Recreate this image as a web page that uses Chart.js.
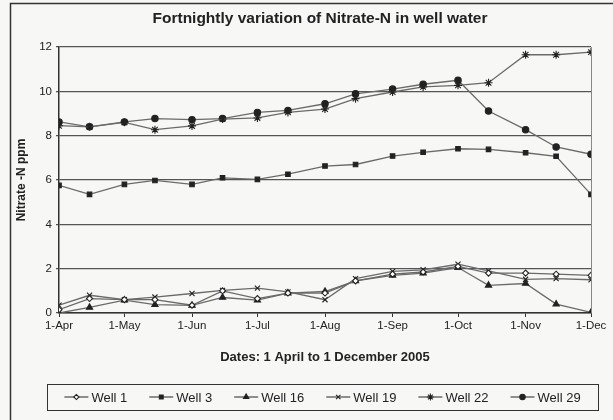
<!DOCTYPE html>
<html>
<head>
<meta charset="utf-8">
<script src="https://cdn.jsdelivr.net/npm/chart.js@4/dist/chart.umd.min.js"></script>
<style>
  html, body { margin: 0; padding: 0; background: #f7f7f5; }
  #wrap { width: 613px; height: 420px; }
</style>
</head>
<body>
<div id="wrap"><canvas id="nitrateChart" width="613" height="420"></canvas></div>
<script>
// sampling dates (fortnightly) and month ticks
const sampleDates = ['2005-04-01','2005-04-15','2005-05-01','2005-05-15','2005-06-01','2005-06-15',
  '2005-07-01','2005-07-15','2005-08-01','2005-08-15','2005-09-01','2005-09-15','2005-10-01',
  '2005-10-15','2005-11-01','2005-11-15','2005-12-01']
const monthStarts = ['2005-04-01','2005-05-01','2005-06-01','2005-07-01','2005-08-01',
  '2005-09-01','2005-10-01','2005-11-01','2005-12-01']
const tickLabels = ['1-Apr','1-May','1-Jun','1-Jul','1-Aug','1-Sep','1-Oct','1-Nov','1-Dec']
const yTicks = [0, 2, 4, 6, 8, 10, 12]

// Nitrate-N ppm per well
const well1  = [0.15, 0.65, 0.6, 0.6, 0.35, 1.0, 0.65, 0.9, 0.9, 1.45, 1.75, 1.85, 2.1, 1.8, 1.8, 1.75, 1.7]
const well3  = [5.76, 5.35, 5.8, 5.98, 5.8, 6.1, 6.03, 6.26, 6.63, 6.7, 7.08, 7.25, 7.41, 7.38, 7.23, 7.07, 5.35]
const well16 = [0.0, 0.25, 0.58, 0.38, 0.34, 0.7, 0.58, 0.9, 0.97, 1.45, 1.7, 1.8, 2.05, 1.25, 1.33, 0.4, 0.03]
const well19 = [0.35, 0.8, 0.6, 0.72, 0.88, 1.02, 1.12, 0.95, 0.6, 1.55, 1.88, 1.95, 2.2, 1.9, 1.52, 1.55, 1.5]
const well22 = [8.45, 8.4, 8.6, 8.27, 8.44, 8.75, 8.8, 9.05, 9.2, 9.67, 9.97, 10.2, 10.27, 10.39, 11.65, 11.65, 11.77]
const well29 = [8.62, 8.4, 8.62, 8.77, 8.72, 8.77, 9.05, 9.14, 9.44, 9.89, 10.1, 10.32, 10.5, 9.11, 8.27, 7.49, 7.16]

const seriesNames = ['Well 1', 'Well 3', 'Well 16', 'Well 19', 'Well 22', 'Well 29']
const seriesValues = [well1, well3, well16, well19, well22, well29]
const pointStyles = ['rectRot', 'rect', 'triangle', 'crossRot', 'star', 'circle']
const pointFills = ['#ffffff', '#222', '#222', '#222', '#222', '#222']
const pointSizes = [3, 3.2, 3.6, 3.6, 4, 3.2]

const dayMs = 86400000
const t0 = Date.parse(sampleDates[0])
const toDay = d => (Date.parse(d) - t0) / dayMs
const tickDays = monthStarts.map(toDay)

const datasets = seriesNames.map((name, i) => ({
  label: name,
  data: seriesValues[i].map((v, j) => ({x: toDay(sampleDates[j]), y: v})),
  borderColor: '#6a6a6a',
  borderWidth: 1.3,
  pointStyle: pointStyles[i],
  pointRadius: pointSizes[i],
  pointBackgroundColor: pointFills[i],
  pointBorderColor: '#222',
  pointBorderWidth: 1.1,
  tension: 0,
  fill: false
}))

const font = "'Liberation Sans', Arial, sans-serif"

const frame = {
  id: 'frame',
  beforeDraw(chart) {
    const ctx = chart.ctx
    ctx.save()
    ctx.fillStyle = '#f7f7f5'
    ctx.fillRect(0, 0, chart.width, chart.height)
    ctx.strokeStyle = '#333'
    ctx.lineWidth = 1.5
    ctx.strokeRect(10.5, 3.5, 700, 500)
    ctx.fillStyle = '#222'
    ctx.font = 'bold 15.5px ' + font
    ctx.textAlign = 'center'
    ctx.textBaseline = 'middle'
    ctx.fillText('Fortnightly variation of Nitrate-N in well water', 320, 19)
    ctx.restore()
  },
  afterDraw(chart) {
    const ctx = chart.ctx
    const a = chart.chartArea
    ctx.save()
    // right border of the plot
    ctx.strokeStyle = '#888'
    ctx.lineWidth = 1
    ctx.beginPath()
    ctx.moveTo(Math.round(a.right) + 0.5, a.top)
    ctx.lineTo(Math.round(a.right) + 0.5, a.bottom)
    ctx.stroke()

    // legend box
    const bx = 47, by = 384, bw = 551, bh = 26
    ctx.strokeStyle = '#333'
    ctx.lineWidth = 1
    ctx.strokeRect(bx + 0.5, by + 0.5, bw, bh)
    ctx.font = '13px ' + font
    ctx.textBaseline = 'middle'
    ctx.textAlign = 'left'
    const lineLen = 24, gapText = 3, gapItem = 22
    const widths = seriesNames.map(n => lineLen + gapText + ctx.measureText(n).width)
    const total = widths.reduce((s, w) => s + w, 0) + gapItem * (seriesNames.length - 1)
    let x = bx + (bw - total) / 2
    const cy = by + bh / 2
    seriesNames.forEach((n, i) => {
      ctx.strokeStyle = '#555'
      ctx.lineWidth = 1.3
      ctx.beginPath()
      ctx.moveTo(x, cy)
      ctx.lineTo(x + lineLen, cy)
      ctx.stroke()
      ctx.fillStyle = pointFills[i]
      ctx.strokeStyle = '#222'
      ctx.lineWidth = 1.1
      Chart.helpers.drawPoint(ctx, {pointStyle: pointStyles[i], radius: pointSizes[i] * 0.85, rotation: 0, borderWidth: 1.1}, x + lineLen / 2, cy)
      ctx.fillStyle = '#222'
      ctx.fillText(n, x + lineLen + gapText, cy + 1)
      x += widths[i] + gapItem
    })
    ctx.restore()
  }
}

new Chart(document.getElementById('nitrateChart').getContext('2d'), {
  type: 'line',
  data: {datasets: datasets},
  options: {
    responsive: false,
    animation: false,
    layout: {padding: {left: 14, right: 22, top: 47, bottom: 52}},
    plugins: {
      legend: {display: false},
      title: {display: false},
      tooltip: {enabled: false}
    },
    scales: {
      x: {
        type: 'linear',
        min: tickDays[0],
        max: tickDays[tickDays.length - 1],
        afterBuildTicks: s => { s.ticks = tickDays.map(v => ({value: v})) },
        afterFit: s => { s.height = 55 },
        ticks: {
          autoSkip: false,
          maxRotation: 0,
          padding: 2,
          color: '#222',
          font: {family: font, size: 11.5},
          callback: (v, i) => tickLabels[i]
        },
        grid: {drawOnChartArea: false, color: '#333', tickLength: 4},
        border: {color: '#333', width: 1.5},
        title: {
          display: true,
          text: 'Dates: 1 April to 1 December 2005',
          color: '#222',
          font: {family: font, size: 13, weight: 'bold'},
          padding: {top: 4, bottom: 3}
        }
      },
      y: {
        min: 0,
        max: 12,
        afterBuildTicks: s => { s.ticks = yTicks.map(v => ({value: v})) },
        afterFit: s => { s.width = 45 },
        ticks: {
          padding: 4,
          color: '#222',
          font: {family: font, size: 11.5}
        },
        grid: {color: '#555', lineWidth: 1.3, tickLength: 3},
        border: {color: '#333', width: 1.5},
        title: {
          display: true,
          text: 'Nitrate -N ppm',
          color: '#222',
          font: {family: font, size: 12, weight: 'bold'},
          padding: {top: 0, bottom: 2}
        }
      }
    }
  },
  plugins: [frame]
})
</script>
</body>
</html>
